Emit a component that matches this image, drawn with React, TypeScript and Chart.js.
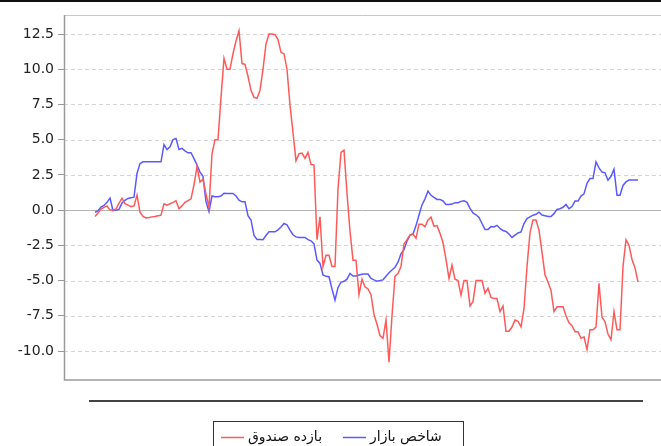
import React, { useEffect, useRef } from "react";
import { Chart, registerables } from "chart.js";

Chart.register(...registerables);

const seriesNames = ["بازده صندوق", "شاخص بازار"];
const seriesColors = ["#ff5a5a", "#5a5aff"];
const yTicks = [-10, -7.5, -5, -2.5, 0, 2.5, 5, 7.5, 10, 12.5];

const fundReturn = [
  -0.45, -0.2, 0.07, 0.2, 0.3, 0.0, 0.0, 0.08, 0.5, 0.85,
  0.45, 0.35, 0.25, 0.3, 1.07, -0.15, -0.45, -0.55, -0.52, -0.48,
  -0.45, -0.4, -0.36, 0.45, 0.35, 0.45, 0.55, 0.66, 0.1, 0.3,
  0.55, 0.68, 0.8, 1.8, 3.1, 2.0, 2.2, 1.15, 0.2, 4.0,
  5.0, 5.0, 8.0, 10.77, 10.0, 10.0, 11.1, 12.0, 12.73, 10.4,
  10.35, 9.5, 8.5, 8.0, 7.93, 8.5, 10.0, 11.8, 12.5, 12.5,
  12.45, 12.1, 11.2, 11.1, 10.0, 7.45, 5.5, 3.5, 4.0, 4.05,
  3.67, 4.1, 3.25, 3.2, -2.1, -0.47, -4.0, -3.2, -3.2, -4.0,
  -4.0, 1.5, 4.1, 4.26, 1.2, -1.5, -3.55, -3.55, -6.0, -4.9,
  -5.44, -5.6, -6.0, -7.4, -8.1, -8.9, -9.1, -7.8, -10.8, -7.5,
  -4.68, -4.5, -4.0, -2.4, -2.1, -1.77, -1.7, -2.0, -1.0, -1.0,
  -1.18, -0.7, -0.5, -1.15, -1.1, -1.65, -2.3, -3.5, -4.85, -3.9,
  -4.9, -5.0, -6.03, -5.0, -5.0, -6.8, -6.5, -5.0, -5.0, -5.0,
  -5.9, -5.55, -6.2, -6.27, -6.27, -7.2, -6.8, -8.6, -8.6, -8.3,
  -7.8, -7.9, -8.28, -7.0, -4.0, -1.6, -0.71, -0.71, -1.42, -3.0,
  -4.6, -5.1, -5.7, -7.2, -6.86, -6.86, -6.86, -7.5, -8.0, -8.2,
  -8.63, -8.63, -9.1, -9.0, -9.9, -8.5, -8.5, -8.3, -5.2, -7.6,
  -7.92, -8.8, -9.2, -7.2, -8.5, -8.5, -4.0, -2.1, -2.5, -3.5,
  -4.1, -5.1,
];

const marketIndex = [
  -0.15, -0.05, 0.22, 0.33, 0.55, 0.85, -0.03, 0.0, 0.05, 0.5,
  0.7, 0.83, 0.87, 0.92, 2.6, 3.3, 3.43, 3.43, 3.43, 3.43,
  3.43, 3.43, 3.43, 4.65, 4.3, 4.5, 5.0, 5.09, 4.3, 4.38,
  4.2, 4.07, 4.07, 3.65, 3.2, 2.7, 2.4, 0.6, -0.1, 1.0,
  0.95, 0.95, 1.0, 1.2, 1.18, 1.18, 1.18, 1.0, 0.7, 0.59,
  0.59, -0.4, -0.7, -1.8, -2.08, -2.08, -2.1, -1.8, -1.54, -1.54,
  -1.54, -1.4, -1.2, -0.95, -1.05, -1.42, -1.75, -1.9, -1.94, -1.94,
  -1.94, -2.1, -2.18, -2.4, -3.55, -3.78, -4.6, -4.7, -4.73, -5.6,
  -6.39, -5.5, -5.12, -5.05, -4.9, -4.5, -4.68, -4.68, -4.6, -4.55,
  -4.54, -4.54, -4.85, -4.95, -5.04, -5.0, -4.95, -4.7, -4.45, -4.25,
  -4.05, -3.7, -3.1, -2.8, -2.2, -1.77, -1.7, -1.1, -0.35, 0.37,
  0.8, 1.35, 1.05, 0.9, 0.76, 0.76, 0.65, 0.4, 0.4, 0.43,
  0.53, 0.52, 0.62, 0.66, 0.55, 0.12, -0.2, -0.33, -0.52, -0.95,
  -1.37, -1.37, -1.17, -1.2, -1.08, -1.3, -1.45, -1.52, -1.7, -1.94,
  -1.77, -1.62, -1.55, -0.95, -0.6, -0.48, -0.36, -0.3, -0.15, -0.35,
  -0.4, -0.45, -0.46, -0.25, 0.05, 0.1, 0.2, 0.4, 0.1, 0.25,
  0.64, 0.64, 1.0, 1.15, 1.9, 2.25, 2.25, 3.43, 3.0, 2.7,
  2.65, 2.12, 2.4, 2.9, 1.06, 1.06, 1.75, 2.0, 2.13, 2.13,
  2.13, 2.13,
];

const W = 661;
const H = 446;

const decor = {
  id: "decor",
  beforeDatasetsDraw(chart: any) {
    const { ctx, chartArea: a, scales } = chart;
    const y = scales.y;
    ctx.save();
    for (const v of yTicks) {
      const py = Math.round(y.getPixelForValue(v)) + 0.5;
      ctx.beginPath();
      if (v === 0) {
        ctx.setLineDash([]);
        ctx.strokeStyle = "#b4b4b4";
      } else {
        ctx.setLineDash([4, 3]);
        ctx.strokeStyle = "#d4d4d4";
      }
      ctx.lineWidth = 1;
      ctx.moveTo(a.left, py);
      ctx.lineTo(a.right, py);
      ctx.stroke();
    }
    ctx.restore();
  },
  afterDraw(chart: any) {
    const { ctx, chartArea: a } = chart;
    ctx.save();
    ctx.setLineDash([]);
    // plot frame
    ctx.strokeStyle = "#c8c8c8";
    ctx.lineWidth = 1;
    ctx.beginPath();
    ctx.moveTo(a.left, a.top + 0.5);
    ctx.lineTo(a.right, a.top + 0.5);
    ctx.stroke();
    ctx.strokeStyle = "#9a9a9a";
    ctx.lineWidth = 1.5;
    ctx.beginPath();
    ctx.moveTo(a.left + 0.5, a.top);
    ctx.lineTo(a.left + 0.5, a.bottom);
    ctx.lineTo(a.right, a.bottom);
    ctx.stroke();
    // top black bar
    ctx.fillStyle = "#111";
    ctx.fillRect(0, 0, W, 2);
    // separator line
    ctx.fillStyle = "#444";
    ctx.fillRect(89, 400, 554, 2);
    // legend box
    ctx.strokeStyle = "#333";
    ctx.lineWidth = 1;
    ctx.strokeRect(213.5, 421.5, 250, 40);
    ctx.font = "14px 'DejaVu Sans'";
    ctx.textBaseline = "middle";
    const items = [
      { lx: 221, tx: 248 },
      { lx: 343, tx: 370 },
    ];
    items.forEach((it, i) => {
      ctx.strokeStyle = seriesColors[i];
      ctx.lineWidth = 1.5;
      ctx.beginPath();
      ctx.moveTo(it.lx, 437.5);
      ctx.lineTo(it.lx + 23, 437.5);
      ctx.stroke();
      ctx.fillStyle = "#111";
      ctx.textAlign = "left";
      ctx.fillText(seriesNames[i], it.tx, 437);
    });
    ctx.restore();
  },
};

export default function App() {
  const ref = useRef<HTMLCanvasElement | null>(null);
  useEffect(() => {
    document.body.style.margin = "0";
    const canvas = ref.current!;
    const toPts = (arr: number[]) => arr.map((v, i) => ({ x: i, y: v }));
    const chart = new Chart(canvas, {
      type: "line",
      data: {
        datasets: [
          {
            label: seriesNames[0],
            data: toPts(fundReturn),
            borderColor: seriesColors[0],
            borderWidth: 1.5,
            pointRadius: 0,
            tension: 0,
          },
          {
            label: seriesNames[1],
            data: toPts(marketIndex),
            borderColor: seriesColors[1],
            borderWidth: 1.5,
            pointRadius: 0,
            tension: 0,
          },
        ],
      },
      options: {
        animation: false,
        responsive: false,
        layout: { padding: { top: 15, bottom: 66, left: 0, right: 0 } },
        plugins: { legend: { display: false }, tooltip: { enabled: false } },
        scales: {
          x: {
            type: "linear",
            display: false,
            min: -31 / 3,
            max: -31 / 3 + 597 / 3,
          },
          y: {
            type: "linear",
            min: -12.058,
            max: 13.849,
            afterFit(scale: any) {
              scale.width = 64;
            },
            afterBuildTicks(scale: any) {
              scale.ticks = yTicks.map((v) => ({ value: v }));
            },
            border: { display: false },
            grid: {
              drawOnChartArea: false,
              drawTicks: true,
              tickLength: 6,
              tickColor: "#9a9a9a",
            },
            ticks: {
              padding: 4,
              color: "#222",
              font: { family: "'DejaVu Sans'", size: 14 },
              callback: (v: any) => Number(v).toFixed(1),
            },
          },
        },
      },
      plugins: [decor],
    });
    return () => chart.destroy();
  }, []);
  return (
    <div style={{ width: W, height: H }}>
      <canvas ref={ref} width={W} height={H} style={{ display: "block" }} />
    </div>
  );
}
